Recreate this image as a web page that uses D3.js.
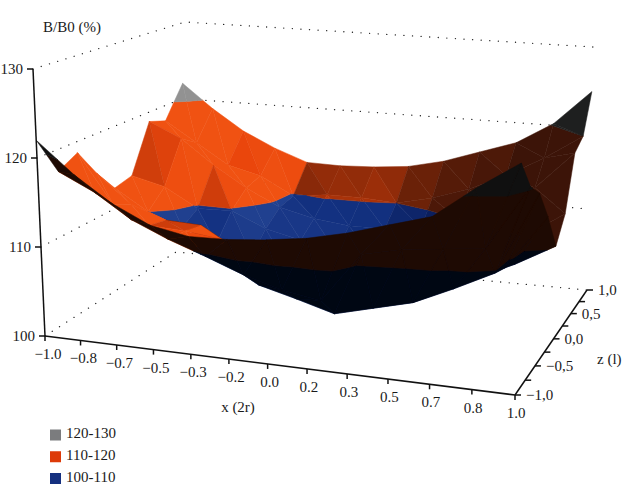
<!DOCTYPE html>
<html>
  <head>
    <meta charset="utf-8">
    <title>B/B0 surface</title>
    <script src="https://d3js.org/d3.v7.min.js"></script>
    <style type="text/css">
      html, body { margin: 0; padding: 0; background: #fff; }
      svg { display: block; }
      text { font-family: "Liberation Serif", serif; font-size: 15px; fill: #1a1a1a; }
    </style>
  </head>
  <body>
    <script type="text/javascript">

      // Data
      var xLabels = ["-1.0", "-0.8", "-0.7", "-0.5", "-0.3", "-0.2", "0.0", "0.2", "0.3", "0.5", "0.7", "0.8", "1.0"];
      var zLabels = ["-1.0", "-0.75", "-0.5", "-0.25", "0.0", "0.25", "0.5", "0.75", "1.0"];
      var yTicks = [100, 110, 120, 130];
      var zShown = ["-1.0", "-0.5", "0.0", "0.5", "1.0"];
      var bands = ["100-110", "110-120", "120-130"];
      var legendOrder = ["120-130", "110-120", "100-110"];

      // one row per z label, front row first
      var rowA = [122, 118.5, 115.7, 113.7, 112.9, 113, 113.4, 114, 115, 116.3, 117.6, 121, 124];
      var rowB = [117.5, 115.5, 112.8, 111, 109.5, 107.9, 106.7, 106, 111.5, 112.5, 113, 113.5, 120.5];
      var rowC = [118.7, 113, 111, 110.8, 110.3, 105.5, 104.4, 103.2, 104.3, 105.4, 107.4, 109.6, 118.7];
      var rowD = [115.3, 112, 110.5, 110.3, 107, 105.5, 104.5, 104, 104.5, 105.5, 107, 108.9, 115];
      var rowE = [112.5, 110, 108.5, 107, 106, 105, 104.5, 104.5, 105, 106, 107.5, 108, 110.5];
      var rowF = [113, 112, 109.7, 109.8, 108, 107, 106, 106, 106.5, 107.5, 109, 110, 113];
      var rowG = [118.8, 117, 114, 111.5, 109.5, 108.5, 108, 108, 108.5, 110, 111.5, 114.5, 119];
      var rowH = [118, 115.5, 113, 112, 109.8, 110.3, 110.3, 110, 111, 112.5, 114.5, 117, 120];
      var rowI = [122, 119, 116.4, 114.5, 113, 112.9, 113.1, 113.5, 114.5, 116, 117.5, 120.2, 124.5];
      var rows = [rowA, rowB, rowC, rowD, rowE, rowF, rowG, rowH, rowI];

      // Setup size
      var width = 623;
      var height = 485;
      var svg = d3.select("body")
          .append("svg")
          .attr("width", width)
          .attr("height", height);

      // Scales: label -> position along the box edge, value -> height in the box
      var xPos = d3.scalePoint().domain(xLabels).range([0, 1]);
      var zPos = d3.scalePoint().domain(zLabels).range([0, 1]);
      var yPos = d3.scaleLinear().domain([100, 130]).range([0, 1]);

      // perspective squeeze along an edge
      function warp(t, k) { return k * t / (1 - t + k * t); }
      var xU = function(l) { return warp(xPos(l), 0.9); };
      var zV = function(l) { return warp(zPos(l), 1.15); };

      // The box as it sits on the page, floor then ceiling
      var box = {
        f00: [45, 336], f10: [515, 395], f11: [587, 290], f01: [176, 252],
        c00: [33, 69],  c10: [523, 105], c11: [593, 47],  c01: [185, 22]
      };
      function mix(a, b, t) { return [a[0] + (b[0] - a[0]) * t, a[1] + (b[1] - a[1]) * t]; }
      function project(u, v, y) {
        var w = yPos(y);
        var floor = mix(mix(box.f00, box.f10, u), mix(box.f01, box.f11, u), v);
        var ceil = mix(mix(box.c00, box.c10, u), mix(box.c01, box.c11, u), v);
        return mix(floor, ceil, w);
      }

      // Dotted grid on the two back walls
      var wall = d3.line();
      yTicks.forEach(function(t) {
        svg.append("path")
            .attr("d", wall([project(0, 0, t), project(0, 1, t), project(1, 1, t)]))
            .attr("fill", "none")
            .attr("stroke", "#222")
            .attr("stroke-width", 1.3)
            .attr("stroke-linecap", "round")
            .attr("stroke-dasharray", "0.1 8.5");
      });

      // Band colours: shaded from facing away to facing the light, and the underside
      var shadeStops = [0, 0.5, 0.75, 1];
      var bandStyle = {
        "100-110": { lo: [100, 110], ramp: ["#0a1c58", "#12307f", "#173585", "#20408f"], under: "#000713" },
        "110-120": { lo: [110, 120], ramp: ["#3c1408", "#a53109", "#e9450c", "#f05212"], under: "#1e0a03" },
        "120-130": { lo: [120, 130], ramp: ["#1e1f1f", "#555555", "#8a8a8a", "#929292"], under: "#101010" }
      };
      bands.forEach(function(b) {
        bandStyle[b].color = d3.scaleLinear().domain(shadeStops).range(bandStyle[b].ramp).clamp(true);
      });

      function clipBand(poly, limit, keepAbove) {
        var out = [];
        poly.forEach(function(p, i) {
          var q = poly[(i + 1) % poly.length];
          var pIn = keepAbove ? p.y >= limit : p.y <= limit;
          var qIn = keepAbove ? q.y >= limit : q.y <= limit;
          if (pIn) out.push(p);
          if (pIn !== qIn) {
            var t = (limit - p.y) / (q.y - p.y);
            out.push({ u: p.u + (q.u - p.u) * t, v: p.v + (q.v - p.v) * t, y: limit });
          }
        });
        return out;
      }

      // how much a facet turns to the light; a and b are two edges of it
      function lightOf(a0, a1, b0, b1) {
        var sx = 1, sz = 0.5, sy = 0.6;
        var ax = (a1.u - a0.u) * sx, ay = (yPos(a1.y) - yPos(a0.y)) * sy, az = (a1.v - a0.v) * sz;
        var bx = (b1.u - b0.u) * sx, by = (yPos(b1.y) - yPos(b0.y)) * sy, bz = (b1.v - b0.v) * sz;
        var nx = ay * bz - az * by, ny = az * bx - ax * bz, nz = ax * by - ay * bx;
        var len = Math.sqrt(nx * nx + ny * ny + nz * nz);
        if (ny < 0) { nx = -nx; nz = -nz; }
        return 0.55 + 1.5 * nx / len + 0.15 * nz / len;
      }

      // tri is given counter clockwise in the floor plane
      function facesUs(tri) {
        var a = project(tri[0].u, tri[0].v, tri[0].y);
        var b = project(tri[1].u, tri[1].v, tri[1].y);
        var c = project(tri[2].u, tri[2].v, tri[2].y);
        return (b[0] - a[0]) * (c[1] - a[1]) - (b[1] - a[1]) * (c[0] - a[0]) < 0;
      }

      // Draw the surface, back row first, left to right
      var surface = svg.append("g");
      var outline = d3.line();
      for (var j = zLabels.length - 2; j >= 0; j--) {
        for (var i = 0; i < xLabels.length - 1; i++) {
          var p00 = { u: xU(xLabels[i]),     v: zV(zLabels[j]),     y: rows[j][i] };
          var p10 = { u: xU(xLabels[i + 1]), v: zV(zLabels[j]),     y: rows[j][i + 1] };
          var p01 = { u: xU(xLabels[i]),     v: zV(zLabels[j + 1]), y: rows[j + 1][i] };
          var p11 = { u: xU(xLabels[i + 1]), v: zV(zLabels[j + 1]), y: rows[j + 1][i + 1] };
          var quadLight = lightOf(p00, p11, p10, p01);
          drawTri([p10, p11, p01], quadLight);
          drawTri([p00, p10, p01], quadLight);
        }
      }
      function drawTri(tri, quadLight) {
        var top = facesUs(tri);
        var t = 0.7 * quadLight + 0.3 * lightOf(tri[0], tri[1], tri[0], tri[2]);
        bands.forEach(function(b) {
          var s = bandStyle[b];
          var poly = clipBand(clipBand(tri, s.lo[0], true), s.lo[1], false);
          if (poly.length < 3) return;
          var col = top ? s.color(t) : s.under;
          surface.append("path")
              .attr("d", outline(poly.map(function(p) { return project(p.u, p.v, p.y); })) + "Z")
              .attr("fill", col)
              .attr("stroke", col)
              .attr("stroke-width", 0.5)
              .attr("stroke-linejoin", "round");
        });
      }

      // Axes
      var axes = svg.append("g").attr("stroke", "#111").attr("stroke-width", 1.5).attr("fill", "none");
      function seg(a, b) { axes.append("line").attr("x1", a[0]).attr("y1", a[1]).attr("x2", b[0]).attr("y2", b[1]); }

      seg(project(0, 0, 100), project(0, 0, 130));
      seg(project(0, 0, 100), project(1, 0, 100));
      seg(project(1, 0, 100), project(1, 1, 100));

      yTicks.forEach(function(t) {
        var p = project(0, 0, t);
        seg([p[0] - 6, p[1]], p);
        svg.append("text").attr("x", p[0] - 10).attr("y", p[1] + 5).attr("text-anchor", "end").text(t);
      });
      xLabels.forEach(function(l) {
        var p = project(xU(l), 0, 100);
        seg(p, [p[0], p[1] + 5]);
        svg.append("text")
            .attr("x", p[0] + 3 - 2 * xPos(l))
            .attr("y", p[1] + 23)
            .attr("text-anchor", "middle")
            .text(l.replace("-", "\u2212"));
      });
      zLabels.forEach(function(l) {
        var p = project(1, zV(l), 100);
        seg(p, [p[0] + 6, p[1]]);
        if (zShown.indexOf(l) >= 0) {
          svg.append("text")
              .attr("x", p[0] + 11)
              .attr("y", p[1] + 5)
              .text(l.replace("-", "\u2212").replace(".", ","));
        }
      });

      // Axis titles
      svg.append("text").attr("x", 43).attr("y", 32).text("B/B0 (%)");
      svg.append("text").attr("x", 238).attr("y", 412).attr("text-anchor", "middle").text("x (2r)");
      svg.append("text").attr("x", 597).attr("y", 364).text("z (l)");

      // Legend
      var legendColor = d3.scaleOrdinal().domain(legendOrder).range(["#7b7c7e", "#dd3a08", "#15307f"]);
      var legendY = d3.scalePoint().domain(legendOrder).range([435, 478.5]);
      legendOrder.forEach(function(d) {
        svg.append("rect")
            .attr("x", 50).attr("y", legendY(d) - 5.5)
            .attr("width", 11).attr("height", 11)
            .attr("fill", legendColor(d));
        svg.append("text").attr("x", 66).attr("y", legendY(d) + 3).text(d);
      });

    </script>
  </body>
</html>
